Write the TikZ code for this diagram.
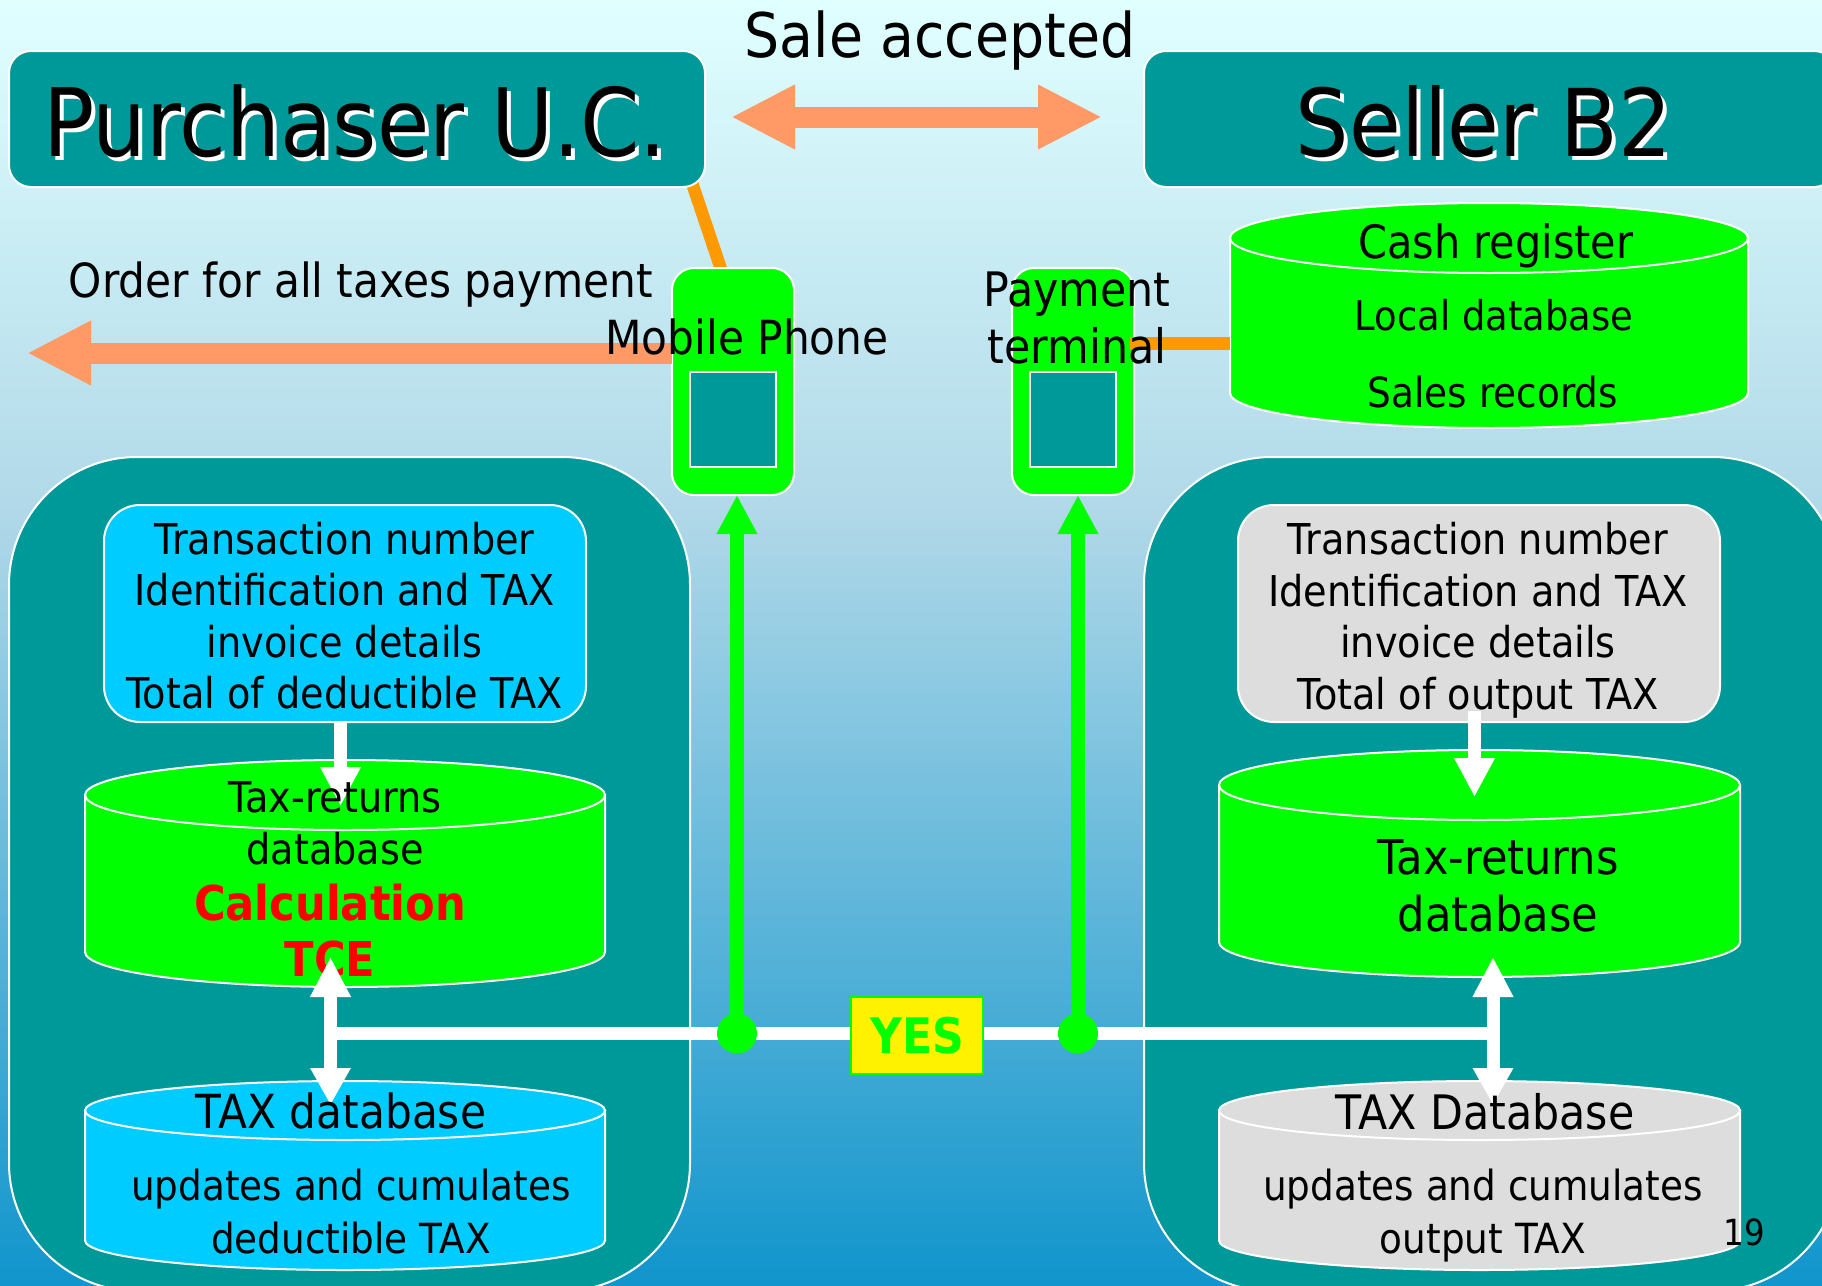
\documentclass[tikz,border=0pt]{standalone}
\usepackage{fontspec}
\setmainfont{DejaVu Sans}[FakeStretch=0.9]
\usetikzlibrary{arrows.meta,calc}
\definecolor{teal1}{RGB}{0,153,153}
\definecolor{lime1}{RGB}{0,255,0}
\definecolor{sky1}{RGB}{0,204,255}
\definecolor{gray1}{RGB}{221,221,221}
\definecolor{orange1}{RGB}{255,153,0}
\definecolor{salmon1}{RGB}{255,153,102}
\pgfdeclareverticalshading{bgshade}{100bp}{%
 color(0bp)=(rgb,255:red,16;green,149;blue,204);
 color(25bp)=(rgb,255:red,16;green,149;blue,204);
 color(55bp)=(rgb,255:red,176;green,216;blue,232);
 color(75bp)=(rgb,255:red,224;green,255;blue,255);
 color(100bp)=(rgb,255:red,224;green,255;blue,255)}
\newcommand{\fs}[1]{\fontsize{#1}{#1}\selectfont}
\tikzset{
 every node/.style={inner sep=0pt,outer sep=0pt},
 panel/.style={draw=white,line width=2pt,fill=teal1,rounded corners=128pt},
 titlebox/.style={draw=white,line width=2pt,fill=teal1,rounded corners=22pt},
 devbox/.style={draw=white,line width=2pt,fill=lime1,rounded corners=22pt,minimum width=122pt,minimum height=227pt},
 screenbox/.style={draw=white,line width=2pt,fill=teal1,minimum width=86pt,minimum height=95pt},
 infobox/.style={draw=white,line width=2pt,rounded corners=36pt,minimum width=482pt,minimum height=217pt},
 dbline/.style={draw=white,line width=2pt},
 txt/.style={anchor=base,text=black,align=center},
 orangeline/.style={draw=orange1,line width=12.5pt},
 salmonarrow/.style={draw=salmon1,line width=21pt,{Triangle[length=64pt,width=60pt,fill=salmon1]}-{Triangle[length=64pt,width=60pt,fill=salmon1]}},
 salmonleft/.style={draw=salmon1,line width=21pt,-{Triangle[length=64pt,width=60pt,fill=salmon1]}},
 greenarrow/.style={draw=lime1,line width=14pt,-{Triangle[length=39pt,width=38pt,fill=lime1]}},
 whiteline/.style={draw=white,line width=13pt},
 whitearrow/.style={draw=white,line width=13pt,-{Triangle[length=39pt,width=38pt,fill=white]}},
 whitedouble/.style={draw=white,line width=13pt,{Triangle[length=40pt,width=38pt,fill=white]}-{Triangle[length=37pt,width=38pt,fill=white]}},
 dot/.style={circle,fill=lime1,minimum size=40pt},
 yesbox/.style={draw=lime1,line width=2.5pt,fill=yellow,minimum width=132pt,minimum height=77pt,text=lime1,font=\bfseries\fs{49}},
}
\newcommand{\dbcyl}[7]{%
 \pgfmathsetmacro\xc{(#2+#4)/2}%
 \pgfmathsetmacro\yc{(#3+#5)/2}%
 \pgfmathsetmacro\rx{(#4-#2)/2}%
 \pgfmathsetmacro\yt{#3+#6}%
 \pgfmathsetmacro\yb{#5-#6}%
 \pgfmathsetmacro\kx{.5523*\rx}%
 \pgfmathsetmacro\ky{.5523*#6}%
 \pgfmathsetmacro\ww{#4-#2}%
 \pgfmathsetmacro\hh{#5-#3}%
 \node[minimum width=\ww pt,minimum height=\hh pt] (#1) at (\xc,\yc) {};
 \draw[dbline,fill=#7] (#2,\yt) -- (#2,\yb) .. controls (#2,\yb+\ky) and (\xc-\kx,#5) .. (\xc,#5)
   .. controls (\xc+\kx,#5) and (#4,\yb+\ky) .. (#4,\yb) -- (#4,\yt) -- cycle;
 \draw[dbline,fill=#7] (\xc,\yt) ellipse [x radius=\rx pt,y radius=#6 pt];
}
\begin{document}
\begin{tikzpicture}[x=1pt,y=-1pt]
\useasboundingbox (0,0) rectangle (1822,1285);
\clip (0,0) rectangle (1822,1285);
\shade[shading=bgshade] (0,0) rectangle (1822,1285);

% free ends and junctions
\coordinate (saleL) at (731,117);
\coordinate (saleR) at (1102,117);
\coordinate (orderTip) at (27,353);
\coordinate (purchLink) at (691,180);
\coordinate (phoneLink) at (722,272);
\coordinate (jL) at (330.5,1033.5);
\coordinate (jR) at (1493,1033.5);
\coordinate (busL) at (737,1033.5);
\coordinate (busR) at (1078,1033.5);
\coordinate (termLink) at (1130,343.5);

% panels
\draw[panel] (9,457) rectangle (690,1291);
\draw[panel] (1144,457) rectangle (1840,1291);

% orange links
\draw[orangeline] (purchLink) -- (phoneLink);

% title boxes
\node[titlebox,minimum width=696pt,minimum height=136pt] (purch) at (357,119) {};
\node[titlebox,minimum width=692pt,minimum height=136pt] (seller) at (1490,119) {};
\node[txt,text=white,font=\fs{94.5}] (purchS) at (359,160) {Purchaser U.C.};
\node[txt,font=\fs{94.5}] (purchT) at (355,156) {Purchaser U.C.};
\node[txt,text=white,font=\fs{93.5}] (sellerS) at (1488,160) {Seller B2};
\node[txt,font=\fs{93.5}] (sellerT) at (1484,156) {Seller B2};

\node[txt,font=\fs{61.5}] (sale) at (940,57) {Sale accepted};
\draw[salmonarrow] (saleL) -- (saleR);
\node[txt,font=\fs{47}] (order) at (361,297) {Order for all taxes payment};

% devices
\node[devbox] (phone) at (733,381.5) {};
\node[devbox] (term) at (1073,381.5) {};
\draw[salmonleft] (phone.west |- orderTip) -- (orderTip);
\node[screenbox] (phoneS) at (733,419.5) {};
\node[screenbox] (termS) at (1073,419.5) {};
\node[txt,font=\fs{47}] (phoneT) at (747,354) {Mobile Phone};

% cash register
\dbcyl{cash}{1230}{203}{1748}{428}{35}{lime1}
\draw[orangeline] (termLink) -- (termLink -| cash.west);
\node[txt,font=\fontsize{47.5}{57}\selectfont] (payT) at (1077,363) {Payment\\terminal};
\node[txt,font=\fs{46}] (cashA) at (1496,258) {Cash register};
\node[txt,font=\fs{41}] (cashB) at (1494,330) {Local database};
\node[txt,font=\fs{41.5}] (cashC) at (1493,407) {Sales records};

% left column
\node[infobox,fill=sky1] (infoL) at (345,613.5) {};
\node[txt,font=\fontsize{42.5}{51.5}\selectfont] (infoLT) at (344.5,708.5) {Transaction number\\Identification and TAX\\invoice details\\Total of deductible TAX};
\dbcyl{retL}{85}{760}{605}{987}{35}{lime1}
\coordinate (retLtip) at (340.5,806);
\draw[whitearrow] (infoL.south -| retLtip) -- (retLtip);
\node[txt,font=\fontsize{42.5}{52.5}\selectfont] (retLT) at (335,864.5) {Tax-returns\\database};
\node[txt,text=red,font=\bfseries\fontsize{48}{56}\selectfont] (calc) at (330,976) {Calculation\\TCE};
\dbcyl{taxL}{85}{1081}{605}{1270}{29.5}{sky1}

% right column
\node[infobox,fill=gray1] (infoR) at (1479,613.5) {};
\node[txt,font=\fontsize{42.5}{51.5}\selectfont] (infoRT) at (1478,709) {Transaction number\\Identification and TAX\\invoice details\\Total of output TAX};
\dbcyl{retR}{1219}{750}{1740}{977}{35}{lime1}
\coordinate (retRtip) at (1474.5,797);
\coordinate (retRstart) at (1474.5,711);
\draw[whitearrow] (retRstart) -- (retRtip);
\node[txt,font=\fontsize{48}{57}\selectfont] (retRT) at (1498,931) {Tax-returns\\database};
\dbcyl{taxR}{1219}{1081}{1740}{1270}{29.5}{gray1}

% YES bus
\draw[whiteline] (jL) -- (jR);
\draw[greenarrow] (busL) -- (busL |- phone.south);
\draw[greenarrow] (busR) -- (busR |- term.south);
\node[dot] (dotL) at (busL) {};
\node[dot] (dotR) at (busR) {};
\node[yesbox] (yes) at (917,1035.5) {YES};
\coordinate (upLtip) at (330.5,957);
\coordinate (dnLtip) at (330.5,1105);
\coordinate (upRtip) at (1493,957);
\coordinate (dnRtip) at (1493,1105);
\draw[whitedouble] (upLtip) -- (dnLtip);
\draw[whitedouble] (upRtip) -- (dnRtip);

\node[txt,font=\fs{47}] (taxLT) at (341,1128) {TAX database};
\node[txt,font=\fontsize{41.5}{52.5}\selectfont] (taxLB) at (351,1253) {updates and cumulates\\deductible TAX};
\node[txt,font=\fs{47.5}] (taxRT) at (1485,1129) {TAX Database};
\node[txt,font=\fontsize{41.5}{53}\selectfont] (taxRB) at (1483,1253) {updates and cumulates\\output TAX};
\node[txt,font=\fs{36}] (page) at (1744,1245.5) {19};
\end{tikzpicture}
\end{document}
